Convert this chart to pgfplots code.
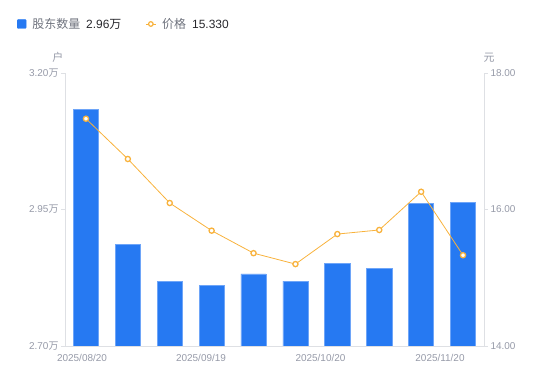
\documentclass[border=0pt]{standalone}
\usepackage{pgfplots}
\pgfplotsset{compat=1.18}
\usepackage{fontspec}
\setmainfont{Liberation Sans}
\newfontfamily\cjk{Noto Sans CJK SC}
\definecolor{barblue}{RGB}{38,121,242}
\definecolor{baredge}{RGB}{110,165,248}
\definecolor{lineorange}{RGB}{248,178,60}
\definecolor{ticktext}{RGB}{150,154,168}
\definecolor{axisgray}{RGB}{222,224,228}
\definecolor{legendgray}{RGB}{110,114,125}
\definecolor{darktext}{RGB}{40,40,45}

\begin{document}
\begin{tikzpicture}
\useasboundingbox (0,0) rectangle (550bp,381bp);
\begin{axis}[
  at={(65bp,35bp)}, anchor=south west,
  scale only axis, width=419bp, height=273bp,
  xmin=-0.5, xmax=9.5, ymin=2.70, ymax=3.20,
  axis y line*=left, axis x line*=bottom,
  axis line style={-, draw=axisgray, line width=0.8bp},
  ytick={2.70,2.95,3.20},
  yticklabels={2.70{\cjk 万},2.95{\cjk 万},3.20{\cjk 万}},
  xtick={-0.094,2.746,5.598,8.45},
  xticklabels={2025/08/20,2025/09/19,2025/10/20,2025/11/20},
  tick label style={font=\fontsize{10}{12}\selectfont, text=ticktext},
  tick align=outside, major tick length=4bp,
  ytick style={draw=axisgray, line width=0.8bp},
  xtick style={draw=none},
  y tick label style={xshift=1bp},
  x tick label style={yshift=-1bp},
  ylabel={\cjk 户},
  every axis y label/.style={at={(rel axis cs:-0.017,1.025)}, anchor=south, font=\fontsize{11}{13}\selectfont, text=ticktext},
  clip=true,
]
\addplot[ybar, bar width=0.6, fill=barblue, draw=baredge, line width=0.6bp] coordinates {
  (0,3.1335) (1,2.886) (2,2.8185) (3,2.8117) (4,2.832)
  (5,2.819) (6,2.852) (7,2.842) (8,2.9614) (9,2.9637)
};
\end{axis}
\begin{axis}[
  at={(65bp,35bp)}, anchor=south west,
  scale only axis, width=419bp, height=273bp,
  xmin=-0.5, xmax=9.5, ymin=14, ymax=18,
  axis y line*=right, axis x line=none,
  axis line style={-, draw=axisgray, line width=0.8bp},
  ytick={14,16,18},
  yticklabels={14.00,16.00,18.00},
  tick label style={font=\fontsize{10}{12}\selectfont, text=ticktext},
  tick align=outside, major tick length=4bp,
  ytick style={draw=axisgray, line width=0.8bp},
  y tick label style={xshift=-1bp},
  ylabel={\cjk 元},
  every axis y label/.style={at={(rel axis cs:1.012,1.025)}, anchor=south, font=\fontsize{11}{13}\selectfont, text=ticktext},
  legend columns=2,
  legend style={draw=none, fill=none, inner sep=0pt, at={(rel axis cs:-0.115,1.1795)}, anchor=west,
    font=\fontsize{12}{14}\selectfont,
    /tikz/every even column/.append style={column sep=22bp}},
  legend cell align=left,
  clip=false,
]
\addlegendimage{legend image code/.code={\fill[barblue, rounded corners=1bp] (0bp,-4.5bp) rectangle (9bp,4.5bp);}}
\addlegendentry{\hspace{4bp}{\color{legendgray}\cjk 股东数量}\hspace{6bp}{\color{darktext}2.96\cjk 万}}
\addplot[lineorange, line width=0.8bp, mark=*, mark size=2.6bp,
  mark options={draw=lineorange, fill=white, line width=1.3bp},
  legend image code/.code={\draw[lineorange, line width=0.8bp] (0bp,0bp) -- (10bp,0bp);
    \draw[draw=lineorange, fill=white, line width=1.2bp] (5bp,0bp) circle (2.3bp);}] coordinates {
  (0,17.33) (1,16.74) (2,16.095) (3,15.69) (4,15.36)
  (5,15.20) (6,15.64) (7,15.70) (8,16.26) (9,15.33)
};
\addlegendentry{\hspace{4bp}{\color{legendgray}\cjk 价格}\hspace{6bp}{\color{darktext}15.330}}
\end{axis}
\end{tikzpicture}
\end{document}
